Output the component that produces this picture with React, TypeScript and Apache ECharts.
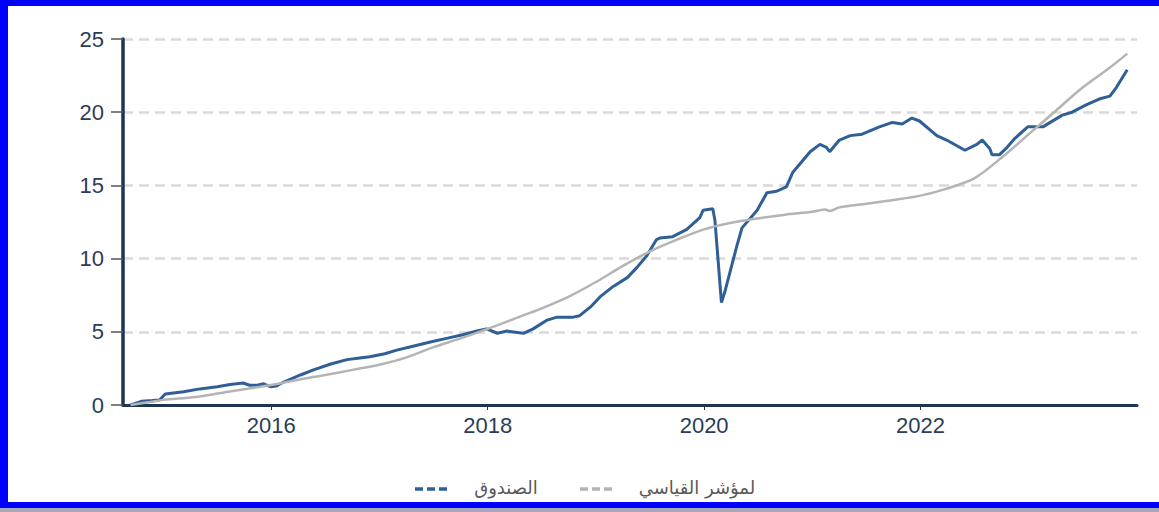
import React, { useEffect, useRef } from "react";
import * as echarts from "echarts";

const fundYears = [2014.70, 2014.80, 2014.90, 2014.97, 2015.02, 2015.19, 2015.34, 2015.50, 2015.62, 2015.74, 2015.80, 2015.87, 2015.93, 2015.99, 2016.05, 2016.11, 2016.27, 2016.39, 2016.55, 2016.70, 2016.80, 2016.91, 2017.05, 2017.16, 2017.30, 2017.47, 2017.62, 2017.77, 2017.90, 2017.99, 2018.09, 2018.18, 2018.33, 2018.42, 2018.55, 2018.64, 2018.79, 2018.85, 2018.95, 2019.04, 2019.16, 2019.29, 2019.38, 2019.47, 2019.56, 2019.59, 2019.71, 2019.84, 2019.96, 2019.99, 2020.08, 2020.10, 2020.16, 2020.19, 2020.30, 2020.35, 2020.49, 2020.58, 2020.67, 2020.76, 2020.82, 2020.98, 2021.07, 2021.13, 2021.16, 2021.25, 2021.35, 2021.46, 2021.62, 2021.74, 2021.83, 2021.92, 2021.99, 2022.15, 2022.24, 2022.41, 2022.52, 2022.57, 2022.64, 2022.66, 2022.73, 2022.80, 2022.87, 2022.99, 2023.13, 2023.31, 2023.40, 2023.53, 2023.65, 2023.75, 2023.81, 2023.91];
const fundValues = [0.0, 0.25, 0.3, 0.35, 0.75, 0.9, 1.1, 1.25, 1.4, 1.5, 1.35, 1.35, 1.45, 1.25, 1.3, 1.55, 2.05, 2.4, 2.8, 3.1, 3.2, 3.3, 3.5, 3.75, 4.0, 4.3, 4.55, 4.8, 5.05, 5.2, 4.9, 5.05, 4.9, 5.2, 5.8, 6.0, 6.0, 6.1, 6.7, 7.4, 8.1, 8.7, 9.4, 10.2, 11.3, 11.4, 11.5, 12.0, 12.8, 13.3, 13.4, 12.6, 7.0, 7.7, 10.8, 12.1, 13.3, 14.5, 14.6, 14.9, 15.9, 17.3, 17.8, 17.6, 17.3, 18.1, 18.4, 18.5, 19.0, 19.3, 19.2, 19.6, 19.4, 18.4, 18.1, 17.4, 17.8, 18.1, 17.5, 17.1, 17.1, 17.6, 18.2, 19.0, 19.0, 19.8, 20.0, 20.5, 20.9, 21.1, 21.7, 22.9];

const indexYears = [2014.70, 2014.88, 2015.00, 2015.30, 2015.60, 2015.90, 2016.10, 2016.30, 2016.50, 2016.75, 2017.00, 2017.25, 2017.50, 2017.75, 2018.00, 2018.25, 2018.50, 2018.75, 2019.00, 2019.25, 2019.50, 2019.75, 2020.00, 2020.25, 2020.50, 2020.75, 2021.00, 2021.12, 2021.16, 2021.25, 2021.50, 2021.75, 2022.00, 2022.25, 2022.50, 2022.75, 2023.00, 2023.25, 2023.50, 2023.75, 2023.91];
const indexValues = [0.0, 0.2, 0.35, 0.55, 0.9, 1.25, 1.5, 1.8, 2.05, 2.4, 2.75, 3.25, 3.95, 4.55, 5.2, 5.9, 6.6, 7.4, 8.4, 9.5, 10.5, 11.3, 12.0, 12.45, 12.75, 13.0, 13.2, 13.35, 13.25, 13.5, 13.75, 14.0, 14.3, 14.8, 15.5, 16.9, 18.5, 20.1, 21.7, 23.05, 24.0];

const xTickYears = [2016, 2018, 2020, 2022];
const yTicks = [0, 5, 10, 15, 20, 25];

const fundName = "الصندوق";
const indexName = "لمؤشر القياسي";

const fundColor = "#305f96";
const indexColor = "#b4b4b4";
const axisColor = "#1c3553";
const labelColor = "#2b3d57";

export default function App() {
  const ref = useRef<HTMLDivElement>(null);
  useEffect(() => {
    if (!ref.current) return;
    const chart = echarts.init(ref.current, null, { renderer: "svg" });
    const fundData = fundYears.map((y, i) => [y, fundValues[i]]);
    const indexData = indexYears.map((y, i) => [y, indexValues[i]]);
    chart.setOption({
      animation: false,
      backgroundColor: "#ffffff",
      grid: { left: 123, right: 22, top: 39, bottom: 107, containLabel: false },
      xAxis: {
        type: "value",
        min: 2014.63,
        max: 2024.0,
        splitLine: { show: false },
        axisLine: { show: true, onZero: false, lineStyle: { color: axisColor, width: 3 } },
        axisTick: { show: true, customValues: xTickYears, length: 5, lineStyle: { color: "#333", width: 1 } },
        axisLabel: {
          customValues: xTickYears,
          margin: 9,
          color: labelColor,
          fontSize: 22,
          fontFamily: "Liberation Sans, Arial, sans-serif",
          formatter: (v: number) => String(Math.round(v)),
        },
      },
      yAxis: {
        type: "value",
        min: yTicks[0],
        max: yTicks[yTicks.length - 1],
        interval: 5,
        axisLine: { show: true, lineStyle: { color: axisColor, width: 3.5 } },
        axisTick: { show: true, length: 12, lineStyle: { color: "#555", width: 1.5 } },
        axisLabel: {
          margin: 19,
          color: labelColor,
          fontSize: 22,
          fontFamily: "Liberation Sans, Arial, sans-serif",
        },
        splitLine: { show: true, lineStyle: { color: "#d9d9d9", width: 2.5, type: [10, 6] } },
      },
      series: [
        {
          name: fundName,
          type: "line",
          data: fundData,
          showSymbol: false,
          symbol: "none",
          lineStyle: { color: fundColor, width: 3 },
          z: 2,
        },
        {
          name: indexName,
          type: "line",
          data: indexData,
          showSymbol: false,
          symbol: "none",
          smooth: 0.3,
          lineStyle: { color: indexColor, width: 2.5 },
          z: 3,
        },
      ],
      graphic: [
        { type: "rect", shape: { x: 0, y: 0, width: 1159, height: 6 }, style: { fill: "#0000ff" }, z: 100 },
        { type: "rect", shape: { x: 0, y: 0, width: 8, height: 508 }, style: { fill: "#0000ff" }, z: 100 },
        { type: "rect", shape: { x: 0, y: 502, width: 1159, height: 6 }, style: { fill: "#0000ff" }, z: 100 },
        { type: "rect", shape: { x: 0, y: 508, width: 1159, height: 4 }, style: { fill: "#a8a8b8" }, z: 100 },
        { type: "line", shape: { x1: 415, y1: 489, x2: 447, y2: 489 }, style: { stroke: fundColor, lineWidth: 3.5, lineDash: [8, 4] }, z: 100 },
        { type: "text", x: 506, y: 487, style: { text: fundName, fill: "#595959", fontSize: 18, fontFamily: "DejaVu Sans, sans-serif", align: "center", verticalAlign: "middle" }, z: 100 },
        { type: "line", shape: { x1: 580, y1: 489, x2: 612, y2: 489 }, style: { stroke: indexColor, lineWidth: 3.5, lineDash: [8, 4] }, z: 100 },
        { type: "text", x: 697, y: 487, style: { text: indexName, fill: "#595959", fontSize: 18, fontFamily: "DejaVu Sans, sans-serif", align: "center", verticalAlign: "middle" }, z: 100 },
      ],
    });
    return () => chart.dispose();
  }, []);
  return <div ref={ref} style={{ position: "absolute", left: 0, top: 0, width: 1159, height: 512 }} />;
}
